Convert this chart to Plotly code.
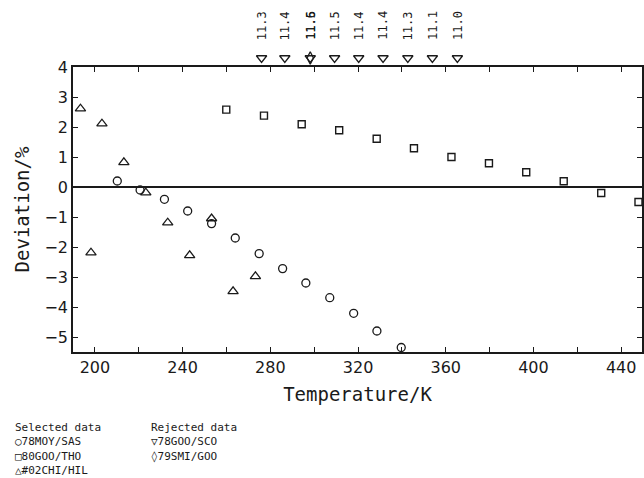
import plotly.graph_objects as go

# 78MOY/SAS (selected, circles)
moy_T = [210.2, 220.6, 231.7, 242.3, 253.2, 264.0, 274.9, 285.6, 296.2, 307.1, 318.0, 328.6, 339.7]
moy_D = [0.20, -0.10, -0.41, -0.80, -1.22, -1.70, -2.22, -2.72, -3.20, -3.69, -4.21, -4.80, -5.35]

# 80GOO/THO (selected, squares)
goo_T = [259.9, 277.1, 294.3, 311.4, 328.5, 345.5, 362.6, 379.7, 396.7, 413.8, 430.9, 447.9]
goo_D = [2.58, 2.38, 2.09, 1.89, 1.61, 1.29, 1.00, 0.79, 0.49, 0.19, -0.20, -0.50]

# #02CHI/HIL (selected, triangles)
chi_T = [193.4, 198.2, 203.2, 213.2, 223.2, 233.2, 243.2, 253.2, 263.0, 273.2]
chi_D = [2.61, -2.19, 2.11, 0.82, -0.19, -1.19, -2.28, -1.05, -3.48, -2.98]

# 78GOO/SCO (rejected, off-scale, down triangles)
sco_T = [276.0, 286.6, 298.2, 309.3, 320.3, 331.4, 342.7, 353.9, 365.3]
sco_D = [11.3, 11.4, 11.5, 11.5, 11.4, 11.4, 11.3, 11.1, 11.0]

# 79SMI/GOO (rejected, off-scale, diamond)
smi_T = [298.2]
smi_D = [11.6]

x_ticks = [200, 240, 280, 320, 360, 400, 440]
y_ticks = [-5, -4, -3, -2, -1, 0, 1, 2, 3, 4]

X_RANGE = [190.0, 449.5]
Y_RANGE = [-5.5, 4.0]

# layout geometry (pixels)
W, H = 644, 478
ML, MR, MT, MB = 73, 0, 20, 126
PLOT_TOP = 67  # pixel row of the y = 4 frame line
PX_PER_UNIT = 30.0
plot_h = H - MT - MB
main_frac = (H - MB - PLOT_TOP) / plot_h
strip_top_val = Y_RANGE[1] + (PLOT_TOP - MT) / PX_PER_UNIT

OFFSCALE_Y = 4.3      # marker row above frame (in deviation units on strip axis)
LABEL_BASE_Y = 4.83   # base of rotated value labels

INK = "#1a1a1a"
fig = go.Figure()

fig.add_trace(go.Scatter(x=moy_T, y=moy_D, mode="markers", name="78MOY/SAS",
                         marker=dict(symbol="circle-open", size=8, color=INK, line=dict(width=1.3))))
fig.add_trace(go.Scatter(x=goo_T, y=goo_D, mode="markers", name="80GOO/THO",
                         marker=dict(symbol="square-open", size=7, color=INK, line=dict(width=1.4))))
fig.add_trace(go.Scatter(x=chi_T, y=chi_D, mode="markers", name="#02CHI/HIL",
                         marker=dict(symbol="triangle-up-open", size=9, color=INK, line=dict(width=1.3))))
fig.add_trace(go.Scatter(x=sco_T, y=[OFFSCALE_Y] * len(sco_T), mode="markers", name="78GOO/SCO",
                         yaxis="y2", cliponaxis=False,
                         marker=dict(symbol="triangle-down-open", size=9, color=INK, line=dict(width=1.3))))
fig.add_trace(go.Scatter(x=smi_T, y=[OFFSCALE_Y] * len(smi_T), mode="markers", name="79SMI/GOO",
                         yaxis="y2", cliponaxis=False,
                         marker=dict(symbol="diamond-tall-open", size=9, color=INK, line=dict(width=1.3))))

# rotated value labels for off-scale points
lab_font = dict(family="DejaVu Sans Mono", size=12, color=INK)
for t, d in list(zip(sco_T, sco_D)) + list(zip(smi_T, smi_D)):
    fig.add_annotation(x=t, y=LABEL_BASE_Y, xref="x", yref="y2", text=f"{d:.1f}",
                       textangle=-90, showarrow=False, xanchor="center", yanchor="bottom",
                       font=lab_font)

# legend block as text (two columns)
leg_font = dict(family="DejaVu Sans Mono", size=11, color=INK)
left_col = "Selected data<br>\u25cb78MOY/SAS<br>\u25a180GOO/THO<br>\u25b3#02CHI/HIL"
right_col = "Rejected data<br>\u25bd78GOO/SCO<br>\u25ca79SMI/GOO"
for px, txt in [(14, left_col), (150, right_col)]:
    fig.add_annotation(x=(px - ML) / (W - ML - MR), y=(H - MB - 420) / plot_h,
                       xref="paper", yref="paper", text=txt, align="left",
                       showarrow=False, xanchor="left", yanchor="top", font=leg_font,
                       borderpad=0)

axis_common = dict(showline=True, linecolor=INK, linewidth=1.5, mirror="ticks",
                   ticks="inside", ticklen=5, tickwidth=1.2, tickcolor=INK,
                   showgrid=False, tickfont=dict(family="DejaVu Sans", size=16, color=INK))

fig.update_layout(
    xaxis=dict(range=X_RANGE, tickvals=x_ticks, zeroline=False, anchor="y",
               minor=dict(dtick=20, tick0=200, ticks="inside", ticklen=5, tickwidth=1.2, tickcolor=INK),
               title=dict(text="Temperature/K", font=dict(family="DejaVu Sans Mono", size=19, color=INK), standoff=12),
               **axis_common),
    yaxis=dict(range=Y_RANGE, tickvals=y_ticks, zeroline=True, zerolinecolor=INK, zerolinewidth=1.5,
               domain=[0, main_frac], anchor="x",
               title=dict(text="Deviation/%", font=dict(family="DejaVu Sans Mono", size=19, color=INK), standoff=10),
               **axis_common),
    yaxis2=dict(range=[Y_RANGE[1], strip_top_val], domain=[main_frac, 1], anchor="x",
                visible=False, showgrid=False, zeroline=False),
    width=W, height=H, margin=dict(l=ML, r=MR, t=MT, b=MB),
    plot_bgcolor="white", paper_bgcolor="white", showlegend=False,
)

fig.write_html("out.html")
